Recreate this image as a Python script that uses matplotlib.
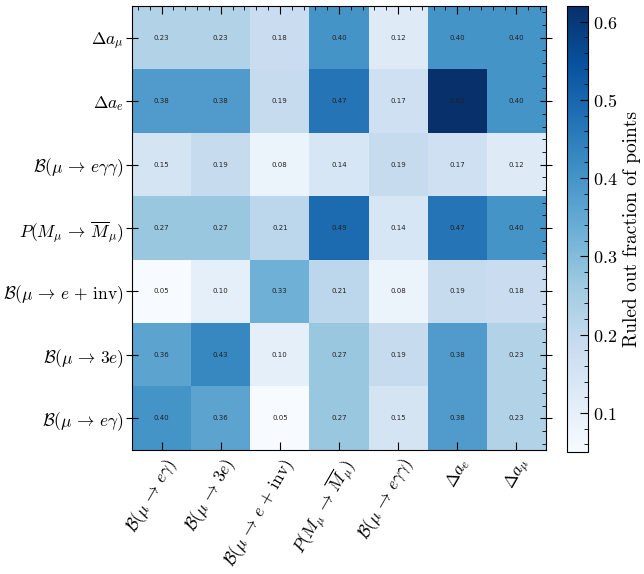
import numpy as np
import matplotlib
matplotlib.use("Agg")
import matplotlib.pyplot as plt
from matplotlib.ticker import MultipleLocator, FuncFormatter

plt.rcParams['mathtext.fontset'] = 'cm'
plt.rcParams['font.family'] = ['DejaVu Serif']

col_labels = [r'$\mathcal{B}(\mu\,\to\, e\gamma)$', r'$\mathcal{B}(\mu\,\to\, 3e)$',
              r'$\mathcal{B}(\mu\,\to\, e\,+\,\mathrm{inv})$', r'$P(M_\mu\,\to\, \overline{M}_\mu)$',
              r'$\mathcal{B}(\mu\,\to\, e\gamma\gamma)$', r'$\Delta a_e$', r'$\Delta a_\mu$']
row_labels = [r'$\Delta a_\mu$', r'$\Delta a_e$', r'$\mathcal{B}(\mu\,\to\, e\gamma\gamma)$',
              r'$P(M_\mu\,\to\, \overline{M}_\mu)$', r'$\mathcal{B}(\mu\,\to\, e\,+\,\mathrm{inv})$',
              r'$\mathcal{B}(\mu\,\to\, 3e)$', r'$\mathcal{B}(\mu\,\to\, e\gamma)$']

row_da_mu = [0.23, 0.23, 0.18, 0.40, 0.12, 0.40, 0.40]
row_da_e = [0.38, 0.38, 0.19, 0.47, 0.17, 0.62, 0.40]
row_egg = [0.15, 0.19, 0.08, 0.14, 0.19, 0.17, 0.12]
row_P = [0.27, 0.27, 0.21, 0.49, 0.14, 0.47, 0.40]
row_inv = [0.05, 0.10, 0.33, 0.21, 0.08, 0.19, 0.18]
row_3e = [0.36, 0.43, 0.10, 0.27, 0.19, 0.38, 0.23]
row_eg = [0.40, 0.36, 0.05, 0.27, 0.15, 0.38, 0.23]

data = np.array([row_da_mu, row_da_e, row_egg, row_P, row_inv, row_3e, row_eg])

fig = plt.figure(figsize=(6.44, 5.74), dpi=100)
ax = fig.add_axes([132/644, 1-450/574, (546-132)/644, (450-6)/574])
cax = fig.add_axes([567/644, 1-452/574, 21/644, (452-6)/574])

im = ax.imshow(data, cmap='Blues', vmin=data.min(), vmax=data.max(), aspect='auto')
for i in range(data.shape[0]):
    for j in range(data.shape[1]):
        ax.text(j, i, f'{data[i, j]:.2f}', ha='center', va='center', fontsize=5,
                family='DejaVu Sans', color='#222222')

ax.set_xticks(range(len(col_labels)))
ax.set_xticklabels(col_labels, rotation=60, ha='right', rotation_mode='anchor', fontsize=12.5)
ax.set_yticks(range(len(row_labels)))
ax.set_yticklabels(row_labels, fontsize=12.5)
ax.tick_params(which='major', direction='in', top=True, right=True, length=6)
ax.tick_params(axis='y', which='major', direction='inout', length=8, pad=2)
ax.xaxis.set_minor_locator(MultipleLocator(0.2))
ax.yaxis.set_minor_locator(MultipleLocator(0.2))
ax.tick_params(which='minor', direction='in', top=True, right=True, length=3)
ax.tick_params(axis='x', which='minor', bottom=False)
ax.tick_params(axis='y', which='minor', left=False)

cb = fig.colorbar(im, cax=cax)
cb.set_label('Ruled out fraction of points', fontsize=14, family='cmr10')
cb.ax.yaxis.set_major_locator(MultipleLocator(0.1))
cb.ax.yaxis.set_minor_locator(MultipleLocator(0.02))
cb.ax.tick_params(which='major', direction='in', length=6, labelsize=13)
cb.ax.tick_params(which='minor', direction='in', length=3)
cb.ax.yaxis.set_major_formatter(FuncFormatter(lambda v, p: f'${v:.1f}$'))

fig.savefig('out.png', dpi=100)
